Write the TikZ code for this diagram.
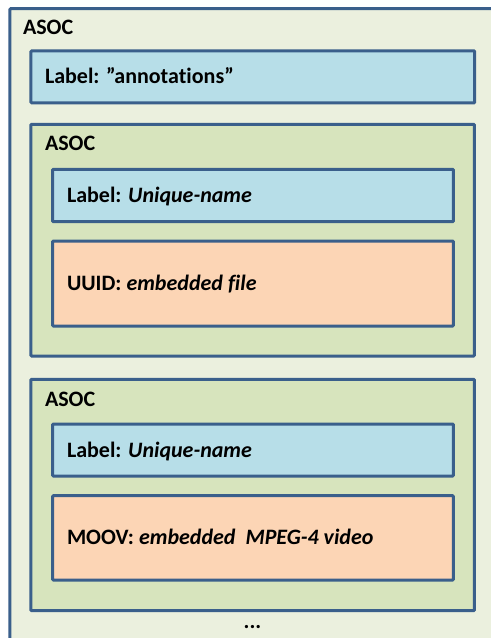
\documentclass[tikz,border=0pt]{standalone}
\usepackage{fontspec}
\setmainfont{Carlito}[Ligatures=NoCommon]
\definecolor{outerbg}{HTML}{EBF0DE}
\definecolor{greenbg}{HTML}{D7E4BD}
\definecolor{bluebg}{HTML}{B7DEE8}
\definecolor{orangebg}{HTML}{FCD5B5}
\definecolor{edge}{HTML}{3A5F8B}
\begin{document}
\begin{tikzpicture}[x=1bp,y=-1bp,
  box/.style={draw=edge,line width=3bp,rectangle,inner sep=0,outer sep=0,rounded corners=0.8bp},
  outerbox/.style={box,fill=outerbg},
  asocbox/.style={box,fill=greenbg},
  labelbox/.style={box,fill=bluebg},
  databox/.style={box,fill=orangebg},
  txt/.style={anchor=base west,inner sep=0,outer sep=0,font=\fontsize{22bp}{26bp}\selectfont\bfseries}
]
\useasboundingbox (0,0) rectangle (491,638);
\clip (0,0) rectangle (491,638);
\fill[white] (0,0) rectangle (491,638);
% outer ASOC
\node[outerbox,minimum width=510bp,minimum height=671.3bp] (outer) at (265,344.35) {};
\node[txt] (outert) at (23,35) {ASOC};
% annotations label
\node[labelbox,minimum width=443.7bp,minimum height=51.8bp] (ann) at (252.85,76.9) {};
\node[txt] (annt) at (45,84) {Label: ”annotations”};
% first inner ASOC
\node[asocbox,minimum width=443.3bp,minimum height=231.7bp] (asoc1) at (252.65,240.15) {};
\node[txt] (asoc1t) at (45,151) {ASOC};
\node[labelbox,minimum width=400.6bp,minimum height=52.4bp] (lab1) at (253,195.5) {};
\node[txt] (lab1t) at (67,202.5) {Label: \textit{Unique-name}};
\node[databox,minimum width=400.6bp,minimum height=85bp] (uuid) at (253,283.5) {};
\node[txt] (uuidt) at (67,290.5) {UUID: \textit{embedded file}};
% second inner ASOC
\node[asocbox,minimum width=443.3bp,minimum height=231.4bp] (asoc2) at (252.65,495) {};
\node[txt] (asoc2t) at (45,406) {ASOC};
\node[labelbox,minimum width=400.6bp,minimum height=52bp] (lab2) at (253,450) {};
\node[txt] (lab2t) at (67,457) {Label: \textit{Unique-name}};
\node[databox,minimum width=400.6bp,minimum height=84.3bp] (moov) at (253,537.85) {};
\node[txt] (moovt) at (67,544.5) {MOOV: \textit{embedded\ \ MPEG-4 video}};
% continuation dots
\node[anchor=base,inner sep=0,font=\fontsize{22bp}{26bp}\selectfont\bfseries] (dots) at (252.5,628) {...};
\end{tikzpicture}
\end{document}
